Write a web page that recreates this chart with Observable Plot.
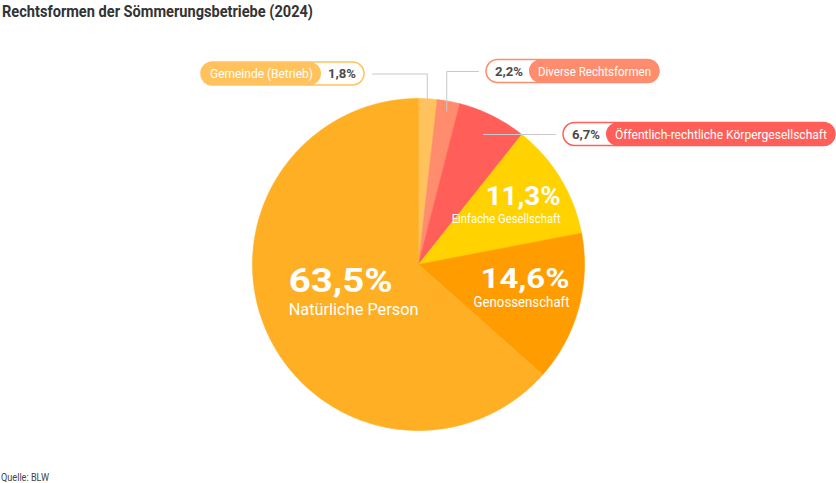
<!DOCTYPE html>
<html><head><meta charset="utf-8">
<script src="https://cdn.jsdelivr.net/npm/d3@7"></script>
<script src="https://cdn.jsdelivr.net/npm/@observablehq/plot@0.6"></script>
<style>
body{margin:0;background:#fff;font-family:Roboto, sans-serif;}
#title{height:22px;line-height:22px;padding-left:2px;white-space:nowrap}
#title span{display:inline-block;font-weight:700;font-size:17px;color:#333;transform-origin:0 50%}
#caption{height:14px;line-height:14px;white-space:nowrap;padding-left:1px}
#caption span{display:inline-block;font-size:11px;color:#444;transform-origin:0 50%}
svg{display:block}
</style></head><body>
<div id="title"><span>Rechtsformen der Sömmerungsbetriebe (2024)</span></div>
<div id="chart"></div>
<div id="caption"><span>Quelle: BLW</span></div>
<script>
// ---- data ----
const categories = ["Gemeinde (Betrieb)", "Diverse Rechtsformen", "Öffentlich-rechtliche Körpergesellschaft", "Einfache Gesellschaft", "Genossenschaft", "Natürliche Person"];
const values = [1.8, 2.2, 6.7, 11.3, 14.6, 63.5];
const colors = ["#FFC25C", "#FF8C6C", "#FF5F58", "#FFD200", "#FF9C00", "#FFAF24"];

// ---- helpers ----
const fmt = v => v.toFixed(1).replace(".", ",") + "%";
function squeeze(el, target) {
  const w = el.getBoundingClientRect().width;
  el.style.transform = `scaleX(${target / w})`;
}
squeeze(document.querySelector("#title span"), 311);
squeeze(document.querySelector("#caption span"), 48);

const W = 836, H = 447;
const cx = 418, cy = 242, R = 166;
const rows = categories.map((c, i) => ({cat: c, value: values[i], label: fmt(values[i])}));
const arcs = d3.pie().sort(null).value(d => d.value)(rows);
const pt = (a, r) => ({x: cx + r * Math.sin(a), y: cy - r * Math.cos(a)});
const fitMap = new Map(); // text -> rendered width

// slice polygons
const poly = arcs.flatMap(a => {
  const n = Math.max(2, Math.ceil((a.endAngle - a.startAngle) / (Math.PI / 360)));
  const pts = [{...pt(0, 0), cat: a.data.cat}];
  for (let i = 0; i <= n; i++) {
    const t = a.startAngle + (a.endAngle - a.startAngle) * i / n;
    pts.push({...pt(t, R), cat: a.data.cat});
  }
  return pts;
});
const arcOf = c => arcs.find(a => a.data.cat === c);
const mid = a => (a.startAngle + a.endAngle) / 2;

// ---- callouts (small slices) ----
const pillH = 23, pillFont = 12.5, numTextW = 28;
const callouts = [
  {cat: categories[0], side: "left", y: 51.5, end: 372, w: 103},
  {cat: categories[1], side: "right", y: 49, end: 478, w: 113},
  {cat: categories[2], side: "right", y: 112, end: 555, w: 212}
];
const leaders = [], outer = [], inner = [], pillLabels = [], pillNums = [];
for (const c of callouts) {
  const a = arcOf(c.cat), m = mid(a);
  const rReach = (cy - c.y) / Math.cos(m);
  const r = Math.min(0.94 * R, rReach);
  const p = pt(m, r);
  leaders.push({cat: c.cat, x: p.x, y: p.y}, {cat: c.cat, x: p.x, y: c.y}, {cat: c.cat, x: c.end, y: c.y});
  fitMap.set(c.cat, c.w);
  fitMap.set(a.data.label, numTextW);
  const labW = c.w + 17;
  const numW = numTextW + 15;
  let x1, x2, lx1, lx2, nx;
  if (c.side === "left") {
    x2 = c.end - 8; x1 = x2 - labW - numW; lx1 = x1; lx2 = x1 + labW; nx = lx2 + numW / 2 - 1;
  } else {
    x1 = c.end + 8; x2 = x1 + numW + labW; lx1 = x1 + numW; lx2 = x2; nx = x1 + numW / 2 + 1;
  }
  outer.push({cat: c.cat, x1, x2, y1: c.y - pillH / 2, y2: c.y + pillH / 2});
  inner.push({cat: c.cat, x1: lx1, x2: lx2, y1: c.y - pillH / 2, y2: c.y + pillH / 2});
  pillLabels.push({x: (lx1 + lx2) / 2, y: c.y, text: c.cat});
  pillNums.push({x: nx, y: c.y, text: a.data.label});
}

// ---- inner labels (large slices) ----
// num/name: [rendered width, font size]
const labelLayout = {
  "Natürliche Person": {anchor: "start", dx: -39, dyNum: -13, dyName: 9.5, num: [104, 34], name: [130, 17]},
  "Genossenschaft": {anchor: "end", dx: 55, dyNum: -2.5, dyName: 16.5, num: [89, 28.5], name: [96, 14.5]},
  "Einfache Gesellschaft": {anchor: "end", dx: 57, dyNum: -7.8, dyName: 9.6, num: [75, 25], name: [109, 12.5]}
};
const innerText = {start: [], end: []};
for (const [cat, L] of Object.entries(labelLayout)) {
  const a = arcOf(cat), c = pt(mid(a), 0.6 * R);
  fitMap.set(a.data.label, L.num[0]);
  fitMap.set(cat, L.name[0]);
  innerText[L.anchor].push(
    {x: c.x + L.dx, y: c.y + L.dyNum, text: a.data.label, size: L.num[1], w: 700},
    {x: c.x + L.dx, y: c.y + L.dyName, text: cat, size: L.name[1], w: 400}
  );
}
const textMarks = [];
for (const anchor of ["start", "end"]) {
  for (const w of [700, 400]) {
    textMarks.push(Plot.text(innerText[anchor].filter(d => d.w === w), {
      x: "x", y: "y", text: "text", fontSize: d => d.size, fontWeight: w,
      textAnchor: anchor, lineAnchor: "bottom", fill: "white"
    }));
  }
}

const chart = Plot.plot({
  width: W, height: H, margin: 0,
  x: {domain: [0, W], range: [0, W], axis: null},
  y: {domain: [0, H], range: [0, H], axis: null},
  color: {domain: categories, range: colors},
  style: {fontFamily: "Roboto, sans-serif", background: "white", overflow: "visible"},
  marks: [
    Plot.line(poly, {x: "x", y: "y", z: "cat", fill: "cat", stroke: "cat", strokeWidth: 0.6, curve: "linear-closed"}),
    Plot.line(leaders, {x: "x", y: "y", z: "cat", stroke: "#c9c9c9", strokeWidth: 1}),
    Plot.rect(outer, {x1: "x1", x2: "x2", y1: "y1", y2: "y2", fill: "white", stroke: "cat", strokeWidth: 1.5, rx: pillH / 2}),
    Plot.rect(inner, {x1: "x1", x2: "x2", y1: "y1", y2: "y2", fill: "cat", rx: pillH / 2}),
    Plot.text(pillLabels, {x: "x", y: "y", text: "text", fill: "white", fontSize: pillFont}),
    Plot.text(pillNums, {x: "x", y: "y", text: "text", fill: "#4a4a4a", fontWeight: 700, fontSize: pillFont}),
    ...textMarks
  ]
});
document.getElementById("chart").appendChild(chart);
// fit the glyph run of each text to the width measured in the reference
chart.querySelectorAll("text").forEach(t => {
  const w = fitMap.get(t.textContent);
  if (w) { t.setAttribute("textLength", w); t.setAttribute("lengthAdjust", "spacingAndGlyphs"); }
});
</script>
</body></html>
